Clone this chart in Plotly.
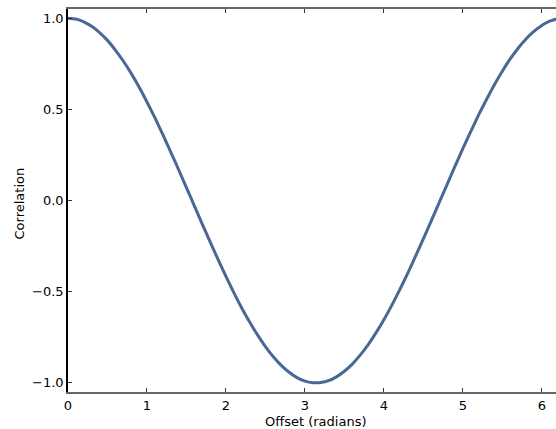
import plotly.graph_objects as go

offset = [0.0, 0.1, 0.2, 0.3, 0.4, 0.5, 0.6, 0.7, 0.8, 0.9, 1.0, 1.1, 1.2, 1.3, 1.4, 1.5,
          1.6, 1.7, 1.8, 1.9, 2.0, 2.1, 2.2, 2.3, 2.4, 2.5, 2.6, 2.7, 2.8, 2.9, 3.0, 3.1,
          3.2, 3.3, 3.4, 3.5, 3.6, 3.7, 3.8, 3.9, 4.0, 4.1, 4.2, 4.3, 4.4, 4.5, 4.6, 4.7,
          4.8, 4.9, 5.0, 5.1, 5.2, 5.3, 5.4, 5.5, 5.6, 5.7, 5.8, 5.9, 6.0, 6.1, 6.2]
correlation = [1.000, 0.995, 0.980, 0.955, 0.921, 0.878, 0.825, 0.765, 0.697, 0.622,
               0.540, 0.454, 0.362, 0.267, 0.170, 0.071, -0.029, -0.129, -0.227, -0.323,
               -0.416, -0.505, -0.589, -0.666, -0.737, -0.801, -0.857, -0.904, -0.942,
               -0.971, -0.990, -0.999, -0.998, -0.988, -0.967, -0.936, -0.897, -0.848,
               -0.791, -0.726, -0.654, -0.575, -0.490, -0.401, -0.307, -0.211, -0.112,
               -0.012, 0.087, 0.187, 0.284, 0.378, 0.469, 0.554, 0.635, 0.709, 0.776,
               0.835, 0.886, 0.927, 0.960, 0.983, 0.997]
y_tickvals = [-1.0, -0.5, 0.0, 0.5, 1.0]
y_ticktext = ["\u22121.0", "\u22120.5", "0.0", "0.5", "1.0"]
x_tickvals = [0, 1, 2, 3, 4, 5, 6]

fig = go.Figure()
fig.add_trace(go.Scatter(x=offset, y=correlation, mode="lines",
                         line=dict(color="#4a6795", width=3, shape="spline", smoothing=0.6)))

fig.update_layout(
    width=556, height=429,
    margin=dict(l=68, r=0, t=9, b=37, autoexpand=False),
    paper_bgcolor="white", plot_bgcolor="white",
    showlegend=False,
    font=dict(family="DejaVu Sans", size=13, color="black"),
    annotations=[
        dict(text="Offset (radians)", xref="paper", yref="paper", x=0.5, y=0,
             yshift=-29, xshift=4, xanchor="center", yanchor="middle",
             showarrow=False, font=dict(size=13)),
        dict(text="Correlation", xref="paper", yref="paper", x=0, y=0.5,
             xshift=-49, yshift=-3, xanchor="center", yanchor="middle", textangle=-90,
             showarrow=False, font=dict(size=13)),
    ],
)
fig.update_xaxes(range=[0, 6.18], tickvals=x_tickvals, ticks="inside", ticklen=4,
                 tickcolor="#333", showline=True, linecolor="#666", linewidth=2,
                 mirror="ticks", showgrid=False, zeroline=False, automargin=False)
fig.update_yaxes(range=[-1.05, 1.05], tickvals=y_tickvals, ticktext=y_ticktext,
                 ticks="inside", ticklen=4, tickcolor="#333", showline=True,
                 linecolor="black", linewidth=1.5, showgrid=False, zeroline=False,
                 automargin=False)

fig.write_html("out.html", config={"displayModeBar": False},
               post_script="document.body.style.margin='0';")
